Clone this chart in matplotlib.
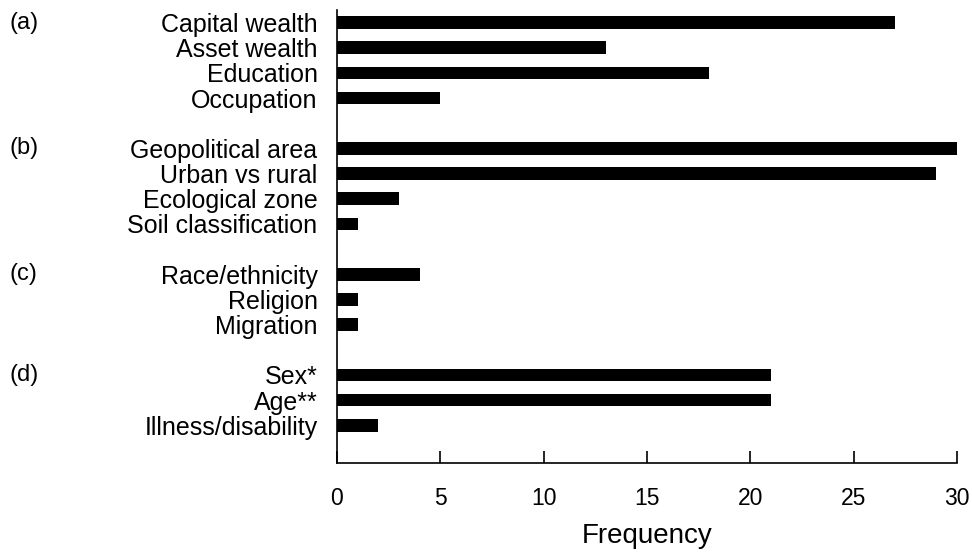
import matplotlib
matplotlib.use("Agg")
import matplotlib.pyplot as plt
from matplotlib.transforms import blended_transform_factory

plt.rcParams['font.family'] = ['Liberation Sans', 'DejaVu Sans']

# Data
groups = ['(a)', '(b)', '(c)', '(d)']
group_items = [
    ['Capital wealth', 'Asset wealth', 'Education', 'Occupation'],
    ['Geopolitical area', 'Urban vs rural', 'Ecological zone', 'Soil classification'],
    ['Race/ethnicity', 'Religion', 'Migration'],
    ['Sex*', 'Age**', 'Illness/disability'],
]
group_values = [
    [27, 13, 18, 5],
    [30, 29, 3, 1],
    [4, 1, 1],
    [21, 21, 2],
]
x_ticks = [0, 5, 10, 15, 20, 25, 30]

fig = plt.figure(figsize=(9.72, 5.54), dpi=100)
ax = fig.add_axes([0.3467, 0.1643, 0.638, 0.8177])

pos = 0
ypos, labels, values, group_pos = [], [], [], []
for g, items, vals in zip(groups, group_items, group_values):
    group_pos.append(pos)
    for it, v in zip(items, vals):
        ypos.append(pos)
        labels.append(it)
        values.append(v)
        pos += 1
    pos += 1  # blank slot between groups

ax.barh(ypos, values, height=0.5, color='black')
ax.set_ylim(pos - 0.5, -0.5)
ax.set_xlim(0, 30)

ax.set_yticks(ypos)
ax.set_yticklabels(labels, fontsize=18)
ax.tick_params(axis='y', length=0, pad=14)
ax.set_xticks(x_ticks)
ax.tick_params(axis='x', direction='in', length=9, width=1.2, labelsize=16.5, pad=17)

# group letters at the far left of the figure
trans = blended_transform_factory(fig.transFigure, ax.transData)
for g, gp in zip(groups, group_pos):
    ax.text(0.010, gp, g, transform=trans, fontsize=17, ha='left', va='center')

ax.set_xlabel('Frequency', fontsize=20, labelpad=10)

for s in ['top', 'right']:
    ax.spines[s].set_visible(False)
ax.spines['left'].set_linewidth(1.2)
ax.spines['bottom'].set_linewidth(1.2)

fig.savefig('out.png', dpi=100)
